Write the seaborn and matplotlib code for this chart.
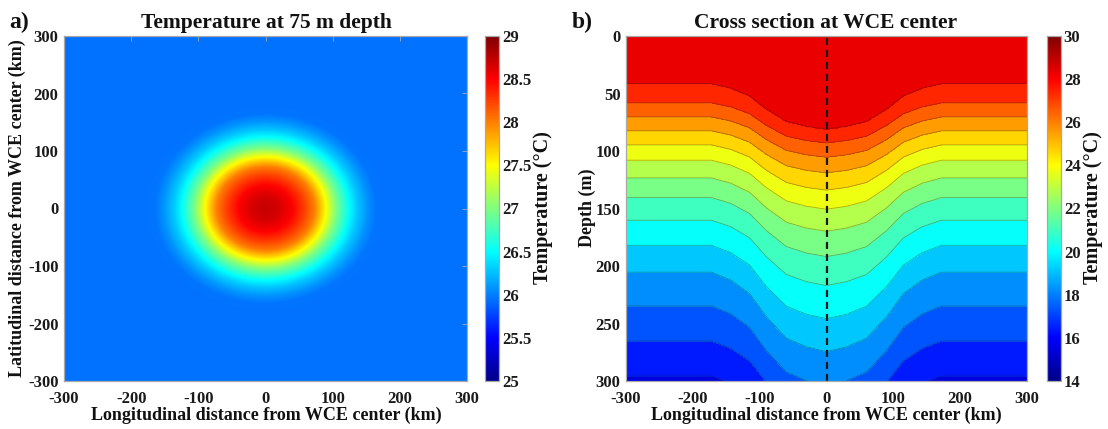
import numpy as np
import matplotlib
matplotlib.use("Agg")
import matplotlib.pyplot as plt
import seaborn as sns
from matplotlib.colors import LinearSegmentedColormap, Normalize
from matplotlib.cm import ScalarMappable

# ------------------------------------------------------------------ data
# Panel a: radial temperature profile at 75 m depth (distance from WCE centre, km)
radius_km = [0, 20, 40, 58, 73, 90, 105, 115, 125, 137, 152, 165, 180, 450]
temp_75m = [28.72, 28.66, 28.50, 28.25, 28.00, 27.50, 27.00, 26.75, 26.50,
            26.28, 26.08, 25.96, 25.95, 25.95]

# Panel b: contour levels (band edges) of the cross section, degC
band_edges = [15.04, 15.95, 16.87, 17.78, 18.70, 19.61, 20.53, 21.44,
              22.36, 23.27, 24.19, 25.10, 26.02, 26.93, 27.85, 28.76]
# isotherms (warm -> cold) : depth far from the eddy and at the eddy centre (m)
iso_temp = [27.85, 26.93, 26.02, 25.10, 24.19, 23.27, 22.36, 21.44,
            20.53, 19.61, 18.70, 17.78, 16.87, 15.95]
iso_depth_far = [41.7, 58.2, 70.4, 82.5, 94.7, 108.0, 123.4, 140.5,
                 160.2, 182.0, 205.3, 234.8, 265.3, 295.2]
iso_depth_center = [81.3, 93.0, 105.4, 119.0, 134.0, 150.6, 169.8, 191.8,
                     217.0, 245.8, 274.5, 304.0, 329.0, 362.0]
# fraction of the isotherm deepening vs distance from the centre (km)
shape_x_km = [0, 30, 60, 90, 115, 143, 172, 300]
shape_frac = [1.00, 0.94, 0.83, 0.56, 0.27, 0.10, 0.00, 0.00]
surface_temp = 28.5
deep_temp = 15.3
center_km = 0

cbar_a_ticks = [25, 25.5, 26, 26.5, 27, 27.5, 28, 28.5, 29]
cbar_b_ticks = [14, 16, 18, 20, 22, 24, 26, 28, 30]
xy_ticks = [-300, -200, -100, 0, 100, 200, 300]
depth_ticks = [0, 50, 100, 150, 200, 250, 300]

# ------------------------------------------------------------------ style
sns.set_theme(style="white")
plt.rcParams['font.family'] = ['Liberation Serif', 'DejaVu Serif']
plt.rcParams['font.weight'] = 'bold'
plt.rcParams['axes.unicode_minus'] = False

jet = LinearSegmentedColormap.from_list(
    "mjet", [(0.0, (0, 0, 0.53)), (1 / 8, (0, 0, 1)), (3 / 8, (0, 1, 1)),
             (5 / 8, (1, 1, 0)), (7 / 8, (1, 0, 0)), (1.0, (0.5, 0, 0))], N=512)

W, H = 1108, 429
fig = plt.figure(figsize=(W / 100, H / 100), dpi=100)


def box(l, t, r, b):
    return [l / W, 1 - b / H, (r - l) / W, (b - t) / H]


edge_col = '#a8a8a8'
tick_kw = dict(direction='in', length=3.5, width=0.6, color=edge_col,
               labelsize=12, labelcolor='#1a1a1a', top=True, right=True)


def style_axes(ax):
    for sp in ax.spines.values():
        sp.set_color(edge_col)
        sp.set_linewidth(0.9)
    ax.tick_params(**tick_kw)
    ax.tick_params(axis='x', pad=7)
    ax.tick_params(axis='y', pad=4)
    for lab in ax.get_xticklabels() + ax.get_yticklabels():
        lab.set_fontweight('bold')


def style_cbar(cb, ticks, fmt):
    cb.set_ticks(ticks)
    cb.set_ticklabels([fmt(t) for t in ticks])
    cb.outline.set_edgecolor(edge_col)
    cb.outline.set_linewidth(0.9)
    cb.ax.tick_params(direction='in', length=3, width=0.6, color='#555555',
                      labelsize=12, labelcolor='#1a1a1a', pad=2, left=True, right=True)
    for lab in cb.ax.get_yticklabels():
        lab.set_fontweight('bold')


# ------------------------------------------------------------------ panel a
ax_a = fig.add_axes(box(64, 36, 467, 381))
g = np.linspace(-300, 300, 601)
X, Y = np.meshgrid(g, g)
R = np.hypot(X - center_km, Y - center_km)
Ta = np.interp(R, radius_km, temp_75m)
im = ax_a.imshow(Ta, extent=[-300, 300, -300, 300], origin='lower', cmap=jet,
                 vmin=25, vmax=29, aspect='auto', interpolation='bilinear')
ax_a.set_xlim(-300, 300)
ax_a.set_ylim(-300, 300)
ax_a.set_xticks(xy_ticks)
ax_a.set_yticks(xy_ticks)
style_axes(ax_a)

cax_a = fig.add_axes(box(485, 36, 499, 381))
cb_a = fig.colorbar(im, cax=cax_a)
style_cbar(cb_a, cbar_a_ticks, lambda t: f"{t:g}")

# ------------------------------------------------------------------ panel b
ax_b = fig.add_axes(box(626, 36, 1027, 381))
xb = np.linspace(-300, 300, 601)
zb = np.linspace(0, 300, 301)
frac = np.interp(np.abs(xb - center_km), shape_x_km, shape_frac)
far = np.asarray(iso_depth_far)
cen = np.asarray(iso_depth_center)
Tb = np.empty((zb.size, xb.size))
for j, f in enumerate(frac):
    d = far + (cen - far) * f
    Tb[:, j] = np.interp(zb, np.r_[0.0, d, 500.0], np.r_[surface_temp, iso_temp, deep_temp])

ax_b.contourf(xb, zb, Tb, levels=band_edges, cmap=jet, vmin=14, vmax=30)
ax_b.contour(xb, zb, Tb, levels=sorted(iso_temp), colors='k', linewidths=0.6, alpha=0.35)
ax_b.axvline(center_km, color='k', lw=1.6, ls=(0, (3.2, 2.2)))
ax_b.set_xlim(-300, 300)
ax_b.set_ylim(300, 0)
ax_b.set_xticks(xy_ticks)
ax_b.set_yticks(depth_ticks)
style_axes(ax_b)

cax_b = fig.add_axes(box(1047, 36, 1061, 381))
sm = ScalarMappable(norm=Normalize(14, 30), cmap=jet)
cb_b = fig.colorbar(sm, cax=cax_b)
style_cbar(cb_b, cbar_b_ticks, lambda t: f"{t:g}")

# ------------------------------------------------------------------ texts


def ftext(x, y, s, **kw):
    fig.text(x / W, 1 - y / H, s, fontweight='bold', color='#111111', **kw)


ftext(266, 28, "Temperature at 75 m depth", ha='center', va='baseline', fontsize=15.5)
ftext(826, 28, "Cross section at WCE center", ha='center', va='baseline', fontsize=15.5)
ftext(9, 28, "a)", ha='left', va='baseline', fontsize=17)
ftext(572, 28, "b)", ha='left', va='baseline', fontsize=17)
ftext(266, 420, "Longitudinal distance from WCE center (km)", ha='center', va='baseline', fontsize=13)
ftext(826, 420, "Longitudinal distance from WCE center (km)", ha='center', va='baseline', fontsize=13)
ftext(17, 208, "Latitudinal distance from WCE center (km)", ha='center', va='center',
      rotation=90, fontsize=13)
ftext(587, 208, "Depth (m)", ha='center', va='center', rotation=90, fontsize=13)
ftext(543, 208, "Temperature (°C)", ha='center', va='center', rotation=90, fontsize=14.5)
ftext(1093, 208, "Temperature (°C)", ha='center', va='center', rotation=90, fontsize=14.5)

fig.savefig("out.png", dpi=100)
